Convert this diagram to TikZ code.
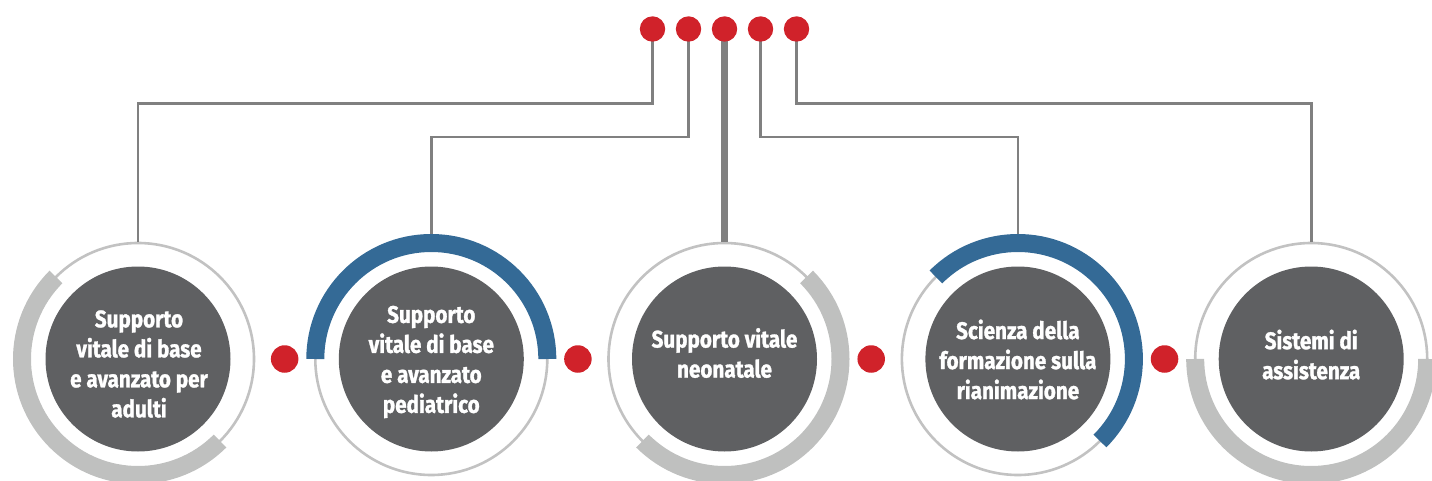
\documentclass[tikz,border=0pt]{standalone}
\usepackage{fontspec}
\usetikzlibrary{calc}
\setmainfont{Fira Sans}[FakeStretch=0.86, BoldFeatures={FakeBold=1.2}]
\definecolor{hubgray}{HTML}{5F6062}
\definecolor{ringgray}{HTML}{C2C2C2}
\definecolor{arcgray}{HTML}{BFC0BF}
\definecolor{wiregray}{HTML}{808080}
\definecolor{dotred}{HTML}{D0222A}
\definecolor{bandblue}{HTML}{346A96}
\begin{document}
\begin{tikzpicture}[x=1pt,y=1pt,
  hub/.style={circle, fill=hubgray, minimum size=185pt, inner sep=0pt},
  ring/.style={circle, draw=ringgray, line width=2.6pt, minimum size=232pt, inner sep=0pt},
  band/.style={line width=18pt, line cap=butt},
  wire/.style={draw=wiregray, line width=2.7pt},
  trunk/.style={draw=wiregray, line width=6.5pt},
  pin/.style={circle, fill=dotred, minimum size=25.4pt, inner sep=0pt},
  link/.style={circle, fill=dotred, minimum size=27.5pt, inner sep=0pt},
  caption/.style={text=white, font=\bfseries\fontsize{24}{30}\selectfont, align=center, inner sep=0pt}
]
\path[use as bounding box] (0,0) rectangle (1432,480);
\clip (0,0) rectangle (1432,480);

% outer thin rings
\foreach \i/\x in {1/138,2/431.3,3/724.5,4/1017.9,5/1311.2}
  \node[ring] (ring\i) at (\x,121) {};

% coloured bands over the rings
\draw[band, draw=arcgray]  (ring1.center) ++(135:116) arc[start angle=135, end angle=315, radius=116];
\draw[band, draw=bandblue] (ring2.center) ++(0:116)   arc[start angle=0,   end angle=180, radius=116];
\draw[band, draw=arcgray]  (ring3.center) ++(-135:116) arc[start angle=-135, end angle=45, radius=116];
\draw[band, draw=bandblue] (ring4.center) ++(-45:116) arc[start angle=-45, end angle=135, radius=116];
\draw[band, draw=arcgray]  (ring5.center) ++(180:116) arc[start angle=180, end angle=360, radius=116];

% dark discs
\foreach \i/\x in {1/138,2/431.3,3/724.5,4/1017.9,5/1311.2}
  \node[hub] (c\i) at (\x,121) {};

% captions
\node[caption] (t1) at (139,116)   {Supporto\\vitale di base\\e avanzato per\\adulti};
\node[caption] (t2) at (431.3,118) {Supporto\\vitale di base\\e avanzato\\pediatrico};
\node[caption] (t3) at (724.5,127) {Supporto vitale\\neonatale};
\node[caption] (t4) at (1017.9,120.5) {Scienza della\\formazione sulla\\rianimazione};
\node[caption] (t5) at (1311.2,125.4) {Sistemi di\\assistenza};

% top pins
\foreach \i/\x in {1/652.5,2/688.5,3/724.5,4/760.5,5/796.5}
  \coordinate (p\i) at (\x,451);

% band tops where the wires land
\coordinate (b2) at (431.3,246);
\coordinate (b4) at (1017.9,246);

% wires from the pins down to the rings
\draw[wire] (p1) |- (ring1.north |- 0,376.5) -- (ring1.north);
\draw[wire] (p2) |- (b2 |- 0,343) -- (b2);
\draw[trunk] (p3) -- (ring3.north);
\draw[wire] (p4) |- (b4 |- 0,343) -- (b4);
\draw[wire] (p5) |- (ring5.north |- 0,376.5) -- (ring5.north);

\foreach \i in {1,...,5}
  \node[pin] (d\i) at (p\i) {};

% red links between the discs
\node[link] (m1) at ($(c1)!0.5!(c2)$) {};
\node[link] (m2) at ($(c2)!0.5!(c3)$) {};
\node[link] (m3) at ($(c3)!0.5!(c4)$) {};
\node[link] (m4) at ($(c4)!0.5!(c5)$) {};
\end{tikzpicture}
\end{document}
